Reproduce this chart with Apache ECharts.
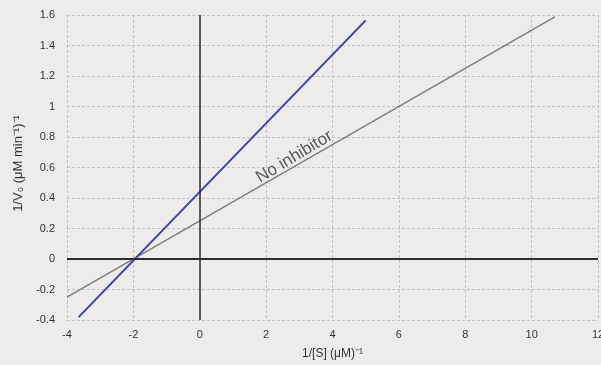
<!DOCTYPE html>
<html>
<head>
<meta charset="utf-8">
<script src="https://cdn.jsdelivr.net/npm/echarts@6/dist/echarts.min.js"></script>
<style>
  html, body { margin: 0; padding: 0; background: #ececea; }
  #chart { width: 601px; height: 365px; }
</style>
</head>
<body>
<div id="chart"></div>
<script>
  // data
  var xTicks = [-4, -2, 0, 2, 4, 6, 8, 10, 12];
  var yTicks = [-0.4, -0.2, 0, 0.2, 0.4, 0.6, 0.8, 1, 1.2, 1.4, 1.6];
  var inhibitorLine = [[-3.65, -0.381], [5.0, 1.565]];
  var noInhibitorLine = [[-4.0, -0.25], [10.7, 1.588]];
  var labelText = 'No inhibitor';
  var labelPos = [2.85, 0.67];

  var chart = echarts.init(document.getElementById('chart'));

  var gridLine = {
    show: true,
    lineStyle: { color: '#c2c2c0', width: 1, type: [3, 2] }
  };

  chart.setOption({
    backgroundColor: '#ececea',
    animation: false,
    grid: { left: 67, right: 3, top: 15, bottom: 45, outerBoundsMode: 'none' },
    xAxis: {
      type: 'value',
      min: xTicks[0],
      max: xTicks[xTicks.length - 1],
      interval: 2,
      axisLine: { onZero: false, show: false },
      axisTick: { show: false },
      splitLine: gridLine,
      axisLabel: { color: '#333', fontSize: 11, fontFamily: 'Liberation Sans', margin: 9 },
      name: '1/[S] (μM)⁻¹',
      nameLocation: 'middle',
      nameGap: 28,
      nameTextStyle: { color: '#333', fontSize: 12, fontFamily: 'Liberation Sans' }
    },
    yAxis: {
      type: 'value',
      min: yTicks[0],
      max: yTicks[yTicks.length - 1],
      interval: 0.2,
      axisLine: { onZero: false, show: false },
      axisTick: { show: false },
      splitLine: gridLine,
      axisLabel: {
        color: '#333', fontSize: 11, fontFamily: 'Liberation Sans', margin: 12,
        formatter: function(v) { return String(Math.round(v * 10) / 10); }
      },
      name: '1/V₀ (μM min⁻¹)⁻¹',
      nameLocation: 'middle',
      nameGap: 39,
      nameTextStyle: { color: '#333', fontSize: 13, fontFamily: 'Liberation Sans', padding: [0, 0, 0, 8] }
    },
    series: [
      {
        type: 'line',
        data: noInhibitorLine,
        symbol: 'none',
        lineStyle: { color: '#7a7a7a', width: 1.3 },
        z: 3,
        markLine: {
          silent: true,
          symbol: 'none',
          label: { show: false },
          lineStyle: { color: '#2e2e2e', width: 2, type: 'solid' },
          data: [{ yAxis: 0 }, { xAxis: 0, lineStyle: { width: 1.5 } }]
        },
        markPoint: {
          symbol: 'circle',
          symbolSize: 0,
          data: [{ coord: labelPos }],
          label: {
            show: true,
            formatter: labelText,
            rotate: 31,
            color: '#5a5a5a',
            fontSize: 17,
            fontFamily: 'Liberation Sans',
            position: 'inside'
          }
        }
      },
      {
        type: 'line',
        data: inhibitorLine,
        symbol: 'none',
        lineStyle: { color: '#3a40b0', width: 2 },
        z: 4
      }
    ]
  });
</script>
</body>
</html>
